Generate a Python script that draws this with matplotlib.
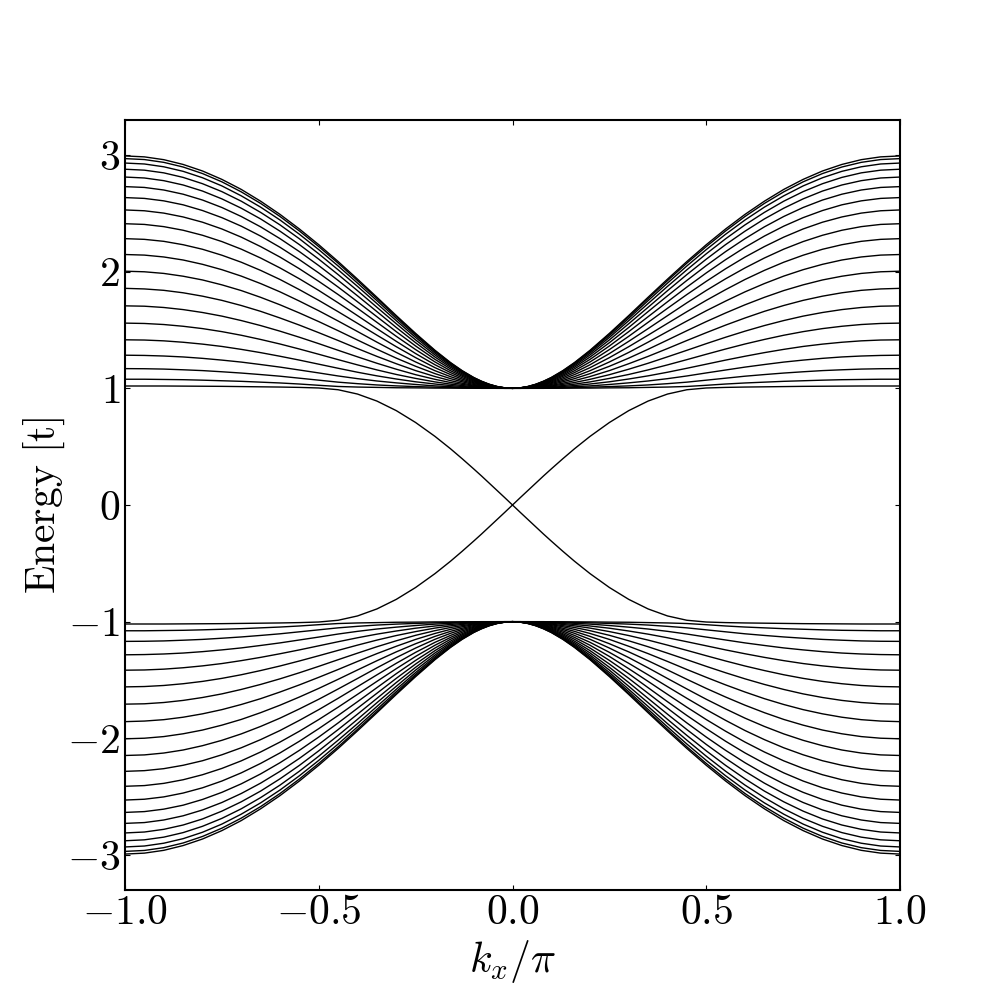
import numpy as np
import matplotlib
matplotlib.use('Agg')
from matplotlib import pyplot as plt

# kx / pi sample points (positive side, curves are symmetric in kx)
kx = [0.0, 0.02, 0.04, 0.06, 0.08, 0.10, 0.13, 0.16, 0.20, 0.25, 0.30, 0.35,
      0.40, 0.45, 0.50, 0.55, 0.60, 0.65, 0.70, 0.75, 0.80, 0.85, 0.90, 0.95, 1.00]

# edge state branch (becomes the lowest band past kx ~ 0.5)
edge_band = [0.0, 0.063, 0.125, 0.187, 0.249, 0.309, 0.397, 0.482, 0.588, 0.707, 0.809, 0.891,
             0.951, 0.988, 1.003, 1.008, 1.011, 1.013, 1.015, 1.017, 1.018, 1.019, 1.020, 1.020, 1.020]

# upper bulk bands, lowest to highest
bulk_bands = [
    [1.0, 1.000, 1.000, 1.000, 1.000, 1.001, 1.001, 1.002, 1.002, 1.004, 1.005, 1.008, 1.011, 1.016, 1.026, 1.037, 1.046, 1.053, 1.060, 1.065, 1.070, 1.074, 1.076, 1.078, 1.078],
    [1.0, 1.000, 1.000, 1.001, 1.002, 1.002, 1.004, 1.006, 1.010, 1.015, 1.021, 1.029, 1.040, 1.053, 1.070, 1.087, 1.104, 1.118, 1.131, 1.142, 1.152, 1.159, 1.165, 1.168, 1.169],
    [1.0, 1.000, 1.001, 1.002, 1.003, 1.005, 1.009, 1.014, 1.021, 1.033, 1.047, 1.063, 1.083, 1.106, 1.132, 1.157, 1.182, 1.204, 1.225, 1.242, 1.257, 1.269, 1.277, 1.282, 1.284],
    [1.0, 1.000, 1.002, 1.003, 1.006, 1.009, 1.016, 1.024, 1.037, 1.056, 1.080, 1.107, 1.138, 1.172, 1.207, 1.242, 1.275, 1.306, 1.334, 1.359, 1.379, 1.395, 1.407, 1.414, 1.416],
    [1.0, 1.001, 1.002, 1.005, 1.009, 1.014, 1.024, 1.036, 1.055, 1.085, 1.119, 1.158, 1.201, 1.246, 1.292, 1.337, 1.380, 1.419, 1.455, 1.486, 1.512, 1.532, 1.547, 1.556, 1.559],
    [1.0, 1.001, 1.003, 1.007, 1.013, 1.020, 1.034, 1.050, 1.077, 1.117, 1.164, 1.215, 1.270, 1.326, 1.383, 1.438, 1.490, 1.538, 1.581, 1.619, 1.650, 1.675, 1.693, 1.704, 1.707],
    [1.0, 1.001, 1.004, 1.010, 1.017, 1.026, 1.044, 1.066, 1.101, 1.152, 1.211, 1.274, 1.341, 1.410, 1.477, 1.542, 1.603, 1.660, 1.710, 1.754, 1.790, 1.819, 1.840, 1.852, 1.857],
    [1.0, 1.001, 1.005, 1.012, 1.022, 1.033, 1.056, 1.083, 1.126, 1.189, 1.259, 1.335, 1.414, 1.494, 1.572, 1.646, 1.716, 1.780, 1.838, 1.887, 1.929, 1.961, 1.985, 1.999, 2.004],
    [1.0, 1.002, 1.007, 1.015, 1.026, 1.041, 1.067, 1.100, 1.151, 1.226, 1.308, 1.396, 1.487, 1.577, 1.665, 1.748, 1.827, 1.898, 1.962, 2.017, 2.063, 2.100, 2.126, 2.142, 2.147],
    [1.0, 1.002, 1.008, 1.018, 1.031, 1.048, 1.079, 1.118, 1.177, 1.263, 1.357, 1.456, 1.557, 1.657, 1.754, 1.846, 1.933, 2.011, 2.081, 2.141, 2.192, 2.231, 2.260, 2.277, 2.283],
    [1.0, 1.002, 1.009, 1.020, 1.036, 1.055, 1.091, 1.135, 1.202, 1.298, 1.403, 1.512, 1.623, 1.733, 1.839, 1.939, 2.032, 2.117, 2.193, 2.258, 2.312, 2.355, 2.386, 2.405, 2.411],
    [1.0, 1.003, 1.010, 1.023, 1.040, 1.062, 1.103, 1.151, 1.226, 1.332, 1.446, 1.566, 1.686, 1.804, 1.917, 2.025, 2.125, 2.215, 2.296, 2.366, 2.424, 2.469, 2.502, 2.522, 2.529],
    [1.0, 1.003, 1.011, 1.025, 1.045, 1.069, 1.113, 1.167, 1.248, 1.363, 1.486, 1.614, 1.742, 1.868, 1.989, 2.103, 2.209, 2.305, 2.390, 2.463, 2.524, 2.573, 2.607, 2.628, 2.635],
    [1.0, 1.003, 1.012, 1.028, 1.049, 1.075, 1.123, 1.181, 1.268, 1.391, 1.522, 1.658, 1.793, 1.925, 2.052, 2.172, 2.283, 2.384, 2.473, 2.550, 2.614, 2.664, 2.700, 2.722, 2.729],
    [1.0, 1.003, 1.013, 1.030, 1.052, 1.080, 1.132, 1.193, 1.286, 1.415, 1.554, 1.695, 1.837, 1.975, 2.107, 2.232, 2.347, 2.452, 2.544, 2.624, 2.691, 2.743, 2.780, 2.803, 2.811],
    [1.0, 1.004, 1.014, 1.032, 1.055, 1.085, 1.139, 1.203, 1.301, 1.436, 1.580, 1.727, 1.874, 2.016, 2.153, 2.282, 2.401, 2.508, 2.604, 2.686, 2.754, 2.808, 2.847, 2.870, 2.878],
    [1.0, 1.004, 1.015, 1.033, 1.058, 1.089, 1.145, 1.212, 1.313, 1.452, 1.600, 1.752, 1.902, 2.049, 2.189, 2.321, 2.443, 2.553, 2.650, 2.735, 2.805, 2.860, 2.899, 2.923, 2.931],
    [1.0, 1.004, 1.015, 1.034, 1.060, 1.091, 1.149, 1.218, 1.321, 1.464, 1.615, 1.770, 1.923, 2.073, 2.215, 2.349, 2.473, 2.585, 2.684, 2.770, 2.841, 2.897, 2.937, 2.961, 2.969],
    [1.0, 1.004, 1.016, 1.035, 1.061, 1.093, 1.152, 1.221, 1.326, 1.471, 1.624, 1.781, 1.936, 2.087, 2.231, 2.366, 2.491, 2.604, 2.705, 2.791, 2.863, 2.919, 2.960, 2.984, 2.992],
]

plt.rcParams['mathtext.fontset'] = 'cm'
plt.rcParams['font.family'] = 'serif'
plt.rcParams['font.serif'] = ['cmr10']
plt.rcParams['axes.formatter.use_mathtext'] = True
plt.rcParams['font.size'] = 30
plt.rcParams['axes.linewidth'] = 1.5

k = np.array(kx)
k_full = np.concatenate([-k[::-1], k[1:]])

def mirror(vals):
    v = np.array(vals)
    return np.concatenate([v[::-1], v[1:]])

fig = plt.figure(figsize=(10, 10), dpi=100)
ax = fig.add_subplot(111)

for band in [edge_band] + bulk_bands:
    e = mirror(band)
    ax.plot(k_full, e, 'k-', lw=1)   # upper half
    ax.plot(k_full, -e, 'k-', lw=1)  # particle-hole partner

ax.set_xlim(-1, 1)
ax.set_ylim(-3.3, 3.3)
ax.set_xticks([-1.0, -0.5, 0.0, 0.5, 1.0])
ax.set_yticks([-3, -2, -1, 0, 1, 2, 3])
ax.tick_params(direction='in', top=True, right=True)
ax.set_xlabel(r'$k_x/\pi$')
ax.set_ylabel(r'$\mathrm{Energy\ [t]}$', labelpad=0)

fig.savefig('out.png')
